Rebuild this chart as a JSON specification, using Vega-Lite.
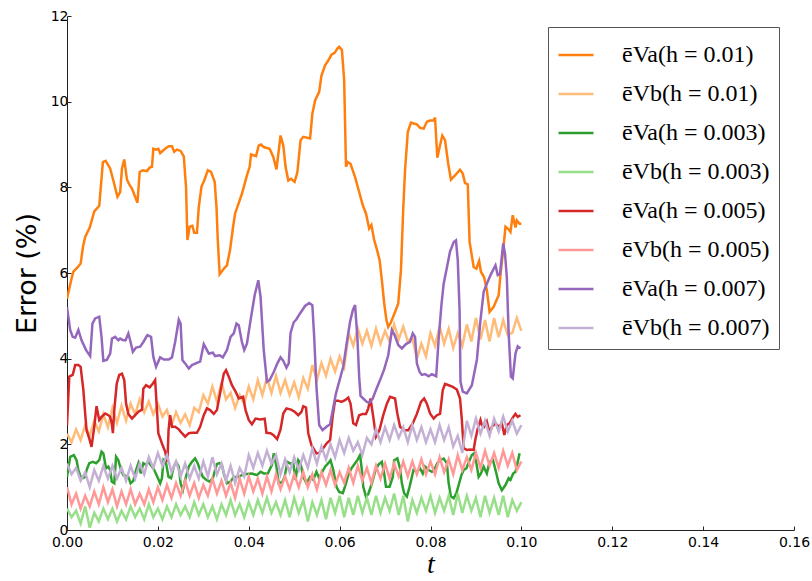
{
"$schema": "https://vega.github.io/schema/vega-lite/v6.json",
"width": 727, "height": 514,
"autosize": "none",
"padding": {"left": 67, "top": 16, "right": 18, "bottom": 51},
"background": "white",
"data": {"values": [
{"s":"a1","t":0,"v":5.4},{"s":"a1","t":0.001,"v":5.87},{"s":"a1","t":0.0014,"v":6.03},{"s":"a1","t":0.0023,"v":6.13},{"s":"a1","t":0.003,"v":6.22},{"s":"a1","t":0.0035,"v":6.6},{"s":"a1","t":0.004,"v":6.84},{"s":"a1","t":0.005,"v":7.06},{"s":"a1","t":0.006,"v":7.44},{"s":"a1","t":0.0071,"v":7.57},{"s":"a1","t":0.0079,"v":8.59},{"s":"a1","t":0.0085,"v":8.62},{"s":"a1","t":0.0095,"v":8.44},{"s":"a1","t":0.0102,"v":8.16},{"s":"a1","t":0.0111,"v":7.78},{"s":"a1","t":0.0117,"v":7.89},{"s":"a1","t":0.0121,"v":8.44},{"s":"a1","t":0.0126,"v":8.65},{"s":"a1","t":0.0132,"v":8.18},{"s":"a1","t":0.0138,"v":8.05},{"s":"a1","t":0.0143,"v":7.97},{"s":"a1","t":0.0155,"v":7.64},{"s":"a1","t":0.016,"v":8.36},{"s":"a1","t":0.0167,"v":8.4},{"s":"a1","t":0.0176,"v":8.38},{"s":"a1","t":0.0182,"v":8.46},{"s":"a1","t":0.0187,"v":8.48},{"s":"a1","t":0.019,"v":8.9},{"s":"a1","t":0.0196,"v":8.88},{"s":"a1","t":0.0201,"v":8.9},{"s":"a1","t":0.0205,"v":8.8},{"s":"a1","t":0.0216,"v":8.9},{"s":"a1","t":0.0224,"v":8.96},{"s":"a1","t":0.0231,"v":8.96},{"s":"a1","t":0.0236,"v":8.83},{"s":"a1","t":0.0242,"v":8.88},{"s":"a1","t":0.025,"v":8.85},{"s":"a1","t":0.0257,"v":8.72},{"s":"a1","t":0.0262,"v":8.0},{"s":"a1","t":0.0265,"v":6.77},{"s":"a1","t":0.027,"v":7.08},{"s":"a1","t":0.0276,"v":7.1},{"s":"a1","t":0.028,"v":6.94},{"s":"a1","t":0.0286,"v":6.94},{"s":"a1","t":0.029,"v":7.54},{"s":"a1","t":0.0296,"v":8.02},{"s":"a1","t":0.0302,"v":8.16},{"s":"a1","t":0.031,"v":8.4},{"s":"a1","t":0.0317,"v":8.36},{"s":"a1","t":0.0325,"v":8.13},{"s":"a1","t":0.0329,"v":7.54},{"s":"a1","t":0.0332,"v":6.73},{"s":"a1","t":0.0336,"v":5.97},{"s":"a1","t":0.0345,"v":6.1},{"s":"a1","t":0.0352,"v":6.18},{"s":"a1","t":0.0359,"v":6.55},{"s":"a1","t":0.0365,"v":7.04},{"s":"a1","t":0.037,"v":7.39},{"s":"a1","t":0.0385,"v":7.85},{"s":"a1","t":0.0396,"v":8.28},{"s":"a1","t":0.0402,"v":8.48},{"s":"a1","t":0.0405,"v":8.77},{"s":"a1","t":0.0416,"v":8.73},{"s":"a1","t":0.0422,"v":8.98},{"s":"a1","t":0.0427,"v":9.0},{"s":"a1","t":0.0433,"v":8.94},{"s":"a1","t":0.0446,"v":8.9},{"s":"a1","t":0.0454,"v":8.71},{"s":"a1","t":0.0461,"v":8.42},{"s":"a1","t":0.047,"v":9.21},{"s":"a1","t":0.0476,"v":8.98},{"s":"a1","t":0.0481,"v":8.48},{"s":"a1","t":0.0487,"v":8.16},{"s":"a1","t":0.0493,"v":8.2},{"s":"a1","t":0.0501,"v":8.13},{"s":"a1","t":0.0507,"v":8.35},{"s":"a1","t":0.0514,"v":9.1},{"s":"a1","t":0.052,"v":9.18},{"s":"a1","t":0.0535,"v":9.14},{"s":"a1","t":0.054,"v":9.72},{"s":"a1","t":0.0546,"v":10.03},{"s":"a1","t":0.0555,"v":10.23},{"s":"a1","t":0.056,"v":10.61},{"s":"a1","t":0.0568,"v":10.85},{"s":"a1","t":0.0575,"v":10.96},{"s":"a1","t":0.0582,"v":11.1},{"s":"a1","t":0.0589,"v":11.14},{"s":"a1","t":0.0595,"v":11.24},{"s":"a1","t":0.0599,"v":11.28},{"s":"a1","t":0.0605,"v":11.21},{"s":"a1","t":0.061,"v":10.5},{"s":"a1","t":0.0614,"v":8.48},{"s":"a1","t":0.0618,"v":8.59},{"s":"a1","t":0.0624,"v":8.55},{"s":"a1","t":0.0634,"v":8.24},{"s":"a1","t":0.0643,"v":7.89},{"s":"a1","t":0.0651,"v":7.58},{"s":"a1","t":0.0658,"v":7.39},{"s":"a1","t":0.0665,"v":7.04},{"s":"a1","t":0.067,"v":7.12},{"s":"a1","t":0.0676,"v":6.77},{"s":"a1","t":0.0682,"v":6.55},{"s":"a1","t":0.0688,"v":6.3},{"s":"a1","t":0.0693,"v":5.83},{"s":"a1","t":0.0698,"v":5.3},{"s":"a1","t":0.0703,"v":4.9},{"s":"a1","t":0.0707,"v":4.74},{"s":"a1","t":0.0713,"v":4.85},{"s":"a1","t":0.0722,"v":5.09},{"s":"a1","t":0.0729,"v":5.29},{"s":"a1","t":0.0735,"v":6.07},{"s":"a1","t":0.074,"v":7.5},{"s":"a1","t":0.0744,"v":8.4},{"s":"a1","t":0.075,"v":9.29},{"s":"a1","t":0.0757,"v":9.51},{"s":"a1","t":0.0763,"v":9.49},{"s":"a1","t":0.077,"v":9.47},{"s":"a1","t":0.0777,"v":9.39},{"s":"a1","t":0.0785,"v":9.37},{"s":"a1","t":0.0792,"v":9.53},{"s":"a1","t":0.0799,"v":9.56},{"s":"a1","t":0.0807,"v":9.56},{"s":"a1","t":0.081,"v":9.63},{"s":"a1","t":0.0815,"v":8.69},{"s":"a1","t":0.0821,"v":8.98},{"s":"a1","t":0.0826,"v":9.21},{"s":"a1","t":0.0832,"v":9.1},{"s":"a1","t":0.0839,"v":8.55},{"s":"a1","t":0.0845,"v":8.18},{"s":"a1","t":0.0854,"v":8.28},{"s":"a1","t":0.0865,"v":8.41},{"s":"a1","t":0.0871,"v":8.32},{"s":"a1","t":0.0876,"v":8.1},{"s":"a1","t":0.0882,"v":8.07},{"s":"a1","t":0.0886,"v":6.73},{"s":"a1","t":0.0895,"v":6.14},{"s":"a1","t":0.0901,"v":6.1},{"s":"a1","t":0.0907,"v":6.28},{"s":"a1","t":0.0911,"v":6.03},{"s":"a1","t":0.0918,"v":5.9},{"s":"a1","t":0.0924,"v":5.6},{"s":"a1","t":0.093,"v":5.09},{"s":"a1","t":0.0939,"v":5.21},{"s":"a1","t":0.095,"v":5.48},{"s":"a1","t":0.0955,"v":6.07},{"s":"a1","t":0.096,"v":6.53},{"s":"a1","t":0.0965,"v":7.08},{"s":"a1","t":0.0972,"v":7.02},{"s":"a1","t":0.0976,"v":6.96},{"s":"a1","t":0.0981,"v":7.35},{"s":"a1","t":0.0987,"v":7.06},{"s":"a1","t":0.099,"v":7.23},{"s":"a1","t":0.0996,"v":7.15},{"s":"a1","t":0.1,"v":7.15},
{"s":"b1","t":0,"v":2.25},{"s":"b1","t":0.001,"v":2.05},{"s":"b1","t":0.002,"v":2.35},{"s":"b1","t":0.003,"v":2.1},{"s":"b1","t":0.004,"v":2.45},{"s":"b1","t":0.005,"v":2.2},{"s":"b1","t":0.006,"v":2.55},{"s":"b1","t":0.007,"v":2.3},{"s":"b1","t":0.008,"v":2.7},{"s":"b1","t":0.009,"v":2.4},{"s":"b1","t":0.01,"v":2.85},{"s":"b1","t":0.011,"v":2.5},{"s":"b1","t":0.012,"v":2.9},{"s":"b1","t":0.013,"v":2.55},{"s":"b1","t":0.014,"v":2.95},{"s":"b1","t":0.015,"v":2.7},{"s":"b1","t":0.016,"v":3.05},{"s":"b1","t":0.017,"v":2.75},{"s":"b1","t":0.018,"v":3.0},{"s":"b1","t":0.019,"v":2.7},{"s":"b1","t":0.02,"v":2.95},{"s":"b1","t":0.021,"v":2.65},{"s":"b1","t":0.022,"v":2.8},{"s":"b1","t":0.023,"v":2.45},{"s":"b1","t":0.024,"v":2.75},{"s":"b1","t":0.025,"v":2.5},{"s":"b1","t":0.026,"v":2.7},{"s":"b1","t":0.027,"v":2.45},{"s":"b1","t":0.028,"v":2.85},{"s":"b1","t":0.029,"v":2.75},{"s":"b1","t":0.03,"v":3.15},{"s":"b1","t":0.031,"v":2.95},{"s":"b1","t":0.032,"v":3.35},{"s":"b1","t":0.033,"v":3.0},{"s":"b1","t":0.034,"v":3.45},{"s":"b1","t":0.035,"v":3.05},{"s":"b1","t":0.036,"v":3.2},{"s":"b1","t":0.037,"v":2.85},{"s":"b1","t":0.038,"v":3.15},{"s":"b1","t":0.039,"v":2.95},{"s":"b1","t":0.04,"v":3.35},{"s":"b1","t":0.041,"v":3.05},{"s":"b1","t":0.042,"v":3.5},{"s":"b1","t":0.043,"v":3.15},{"s":"b1","t":0.044,"v":3.55},{"s":"b1","t":0.045,"v":3.2},{"s":"b1","t":0.046,"v":3.6},{"s":"b1","t":0.047,"v":3.2},{"s":"b1","t":0.048,"v":3.5},{"s":"b1","t":0.049,"v":3.15},{"s":"b1","t":0.05,"v":3.45},{"s":"b1","t":0.051,"v":3.1},{"s":"b1","t":0.052,"v":3.55},{"s":"b1","t":0.053,"v":3.3},{"s":"b1","t":0.054,"v":3.85},{"s":"b1","t":0.055,"v":3.5},{"s":"b1","t":0.056,"v":3.9},{"s":"b1","t":0.057,"v":3.6},{"s":"b1","t":0.058,"v":4.0},{"s":"b1","t":0.059,"v":3.7},{"s":"b1","t":0.06,"v":4.05},{"s":"b1","t":0.061,"v":3.8},{"s":"b1","t":0.062,"v":4.6},{"s":"b1","t":0.063,"v":4.3},{"s":"b1","t":0.064,"v":4.7},{"s":"b1","t":0.065,"v":4.35},{"s":"b1","t":0.066,"v":4.65},{"s":"b1","t":0.067,"v":4.3},{"s":"b1","t":0.068,"v":4.7},{"s":"b1","t":0.069,"v":4.35},{"s":"b1","t":0.07,"v":4.65},{"s":"b1","t":0.071,"v":4.4},{"s":"b1","t":0.072,"v":4.8},{"s":"b1","t":0.073,"v":4.45},{"s":"b1","t":0.074,"v":4.75},{"s":"b1","t":0.075,"v":4.4},{"s":"b1","t":0.076,"v":4.5},{"s":"b1","t":0.077,"v":4.0},{"s":"b1","t":0.078,"v":4.35},{"s":"b1","t":0.079,"v":4.05},{"s":"b1","t":0.08,"v":4.6},{"s":"b1","t":0.081,"v":4.3},{"s":"b1","t":0.082,"v":4.75},{"s":"b1","t":0.083,"v":4.35},{"s":"b1","t":0.084,"v":4.7},{"s":"b1","t":0.085,"v":4.25},{"s":"b1","t":0.086,"v":4.6},{"s":"b1","t":0.087,"v":4.3},{"s":"b1","t":0.088,"v":4.8},{"s":"b1","t":0.089,"v":4.4},{"s":"b1","t":0.09,"v":4.95},{"s":"b1","t":0.091,"v":4.45},{"s":"b1","t":0.092,"v":4.9},{"s":"b1","t":0.093,"v":4.4},{"s":"b1","t":0.094,"v":4.95},{"s":"b1","t":0.095,"v":4.5},{"s":"b1","t":0.096,"v":4.9},{"s":"b1","t":0.097,"v":4.55},{"s":"b1","t":0.098,"v":4.6},{"s":"b1","t":0.099,"v":4.95},{"s":"b1","t":0.1,"v":4.65},
{"s":"a3","t":0,"v":1.24},{"s":"a3","t":0.0007,"v":1.71},{"s":"a3","t":0.0015,"v":1.75},{"s":"a3","t":0.0021,"v":1.63},{"s":"a3","t":0.0025,"v":1.4},{"s":"a3","t":0.003,"v":1.24},{"s":"a3","t":0.0035,"v":1.21},{"s":"a3","t":0.004,"v":1.24},{"s":"a3","t":0.0043,"v":1.4},{"s":"a3","t":0.0049,"v":1.56},{"s":"a3","t":0.0057,"v":1.59},{"s":"a3","t":0.0064,"v":1.56},{"s":"a3","t":0.0071,"v":1.63},{"s":"a3","t":0.0076,"v":1.83},{"s":"a3","t":0.008,"v":1.79},{"s":"a3","t":0.0086,"v":1.44},{"s":"a3","t":0.0091,"v":1.48},{"s":"a3","t":0.0095,"v":1.4},{"s":"a3","t":0.00985,"v":1.13},{"s":"a3","t":0.0104,"v":1.09},{"s":"a3","t":0.0108,"v":1.71},{"s":"a3","t":0.0113,"v":1.63},{"s":"a3","t":0.0118,"v":1.44},{"s":"a3","t":0.0124,"v":1.28},{"s":"a3","t":0.013,"v":1.26},{"s":"a3","t":0.0135,"v":1.24},{"s":"a3","t":0.014,"v":1.09},{"s":"a3","t":0.0146,"v":1.15},{"s":"a3","t":0.0152,"v":1.4},{"s":"a3","t":0.0157,"v":1.56},{"s":"a3","t":0.01625,"v":1.32},{"s":"a3","t":0.0168,"v":1.56},{"s":"a3","t":0.0174,"v":1.52},{"s":"a3","t":0.0179,"v":1.59},{"s":"a3","t":0.0187,"v":1.48},{"s":"a3","t":0.0192,"v":1.4},{"s":"a3","t":0.0199,"v":1.24},{"s":"a3","t":0.0205,"v":1.09},{"s":"a3","t":0.0209,"v":1.21},{"s":"a3","t":0.02125,"v":1.63},{"s":"a3","t":0.0218,"v":1.56},{"s":"a3","t":0.02235,"v":1.24},{"s":"a3","t":0.0229,"v":1.21},{"s":"a3","t":0.0235,"v":1.48},{"s":"a3","t":0.024,"v":1.59},{"s":"a3","t":0.0246,"v":1.48},{"s":"a3","t":0.025,"v":1.09},{"s":"a3","t":0.0255,"v":0.93},{"s":"a3","t":0.026,"v":1.17},{"s":"a3","t":0.0268,"v":1.48},{"s":"a3","t":0.0275,"v":1.59},{"s":"a3","t":0.0282,"v":1.67},{"s":"a3","t":0.02875,"v":1.56},{"s":"a3","t":0.0293,"v":1.4},{"s":"a3","t":0.0299,"v":1.24},{"s":"a3","t":0.0307,"v":1.17},{"s":"a3","t":0.0314,"v":1.13},{"s":"a3","t":0.0321,"v":1.21},{"s":"a3","t":0.0326,"v":1.4},{"s":"a3","t":0.033,"v":1.54},{"s":"a3","t":0.0336,"v":1.56},{"s":"a3","t":0.0341,"v":1.52},{"s":"a3","t":0.0346,"v":1.28},{"s":"a3","t":0.0352,"v":1.09},{"s":"a3","t":0.036,"v":1.13},{"s":"a3","t":0.0367,"v":1.24},{"s":"a3","t":0.0376,"v":1.24},{"s":"a3","t":0.0385,"v":1.28},{"s":"a3","t":0.0396,"v":1.31},{"s":"a3","t":0.0407,"v":1.32},{"s":"a3","t":0.0418,"v":1.28},{"s":"a3","t":0.0426,"v":1.36},{"s":"a3","t":0.0433,"v":1.32},{"s":"a3","t":0.0442,"v":1.32},{"s":"a3","t":0.0451,"v":1.52},{"s":"a3","t":0.0455,"v":1.79},{"s":"a3","t":0.0461,"v":1.48},{"s":"a3","t":0.0466,"v":1.09},{"s":"a3","t":0.0474,"v":1.12},{"s":"a3","t":0.0479,"v":1.24},{"s":"a3","t":0.0485,"v":1.59},{"s":"a3","t":0.0492,"v":1.55},{"s":"a3","t":0.0498,"v":1.56},{"s":"a3","t":0.0503,"v":1.17},{"s":"a3","t":0.0509,"v":1.63},{"s":"a3","t":0.0514,"v":1.56},{"s":"a3","t":0.052,"v":1.24},{"s":"a3","t":0.0527,"v":1.09},{"s":"a3","t":0.0535,"v":1.24},{"s":"a3","t":0.0542,"v":1.17},{"s":"a3","t":0.0549,"v":1.36},{"s":"a3","t":0.0555,"v":1.21},{"s":"a3","t":0.056,"v":1.32},{"s":"a3","t":0.0568,"v":1.48},{"s":"a3","t":0.0575,"v":1.56},{"s":"a3","t":0.058,"v":1.63},{"s":"a3","t":0.0586,"v":1.4},{"s":"a3","t":0.0593,"v":1.01},{"s":"a3","t":0.0599,"v":0.89},{"s":"a3","t":0.0607,"v":0.86},{"s":"a3","t":0.0614,"v":1.09},{"s":"a3","t":0.0619,"v":1.28},{"s":"a3","t":0.0626,"v":1.44},{"s":"a3","t":0.0634,"v":1.56},{"s":"a3","t":0.0639,"v":1.63},{"s":"a3","t":0.0645,"v":1.75},{"s":"a3","t":0.0649,"v":1.4},{"s":"a3","t":0.0652,"v":1.01},{"s":"a3","t":0.0658,"v":0.78},{"s":"a3","t":0.0663,"v":0.84},{"s":"a3","t":0.0671,"v":1.09},{"s":"a3","t":0.0678,"v":1.36},{"s":"a3","t":0.0685,"v":1.52},{"s":"a3","t":0.0693,"v":1.59},{"s":"a3","t":0.0698,"v":1.32},{"s":"a3","t":0.0702,"v":1.01},{"s":"a3","t":0.071,"v":1.01},{"s":"a3","t":0.0717,"v":1.24},{"s":"a3","t":0.072,"v":1.63},{"s":"a3","t":0.0727,"v":1.67},{"s":"a3","t":0.0733,"v":1.44},{"s":"a3","t":0.0737,"v":1.09},{"s":"a3","t":0.0742,"v":0.86},{"s":"a3","t":0.0748,"v":0.78},{"s":"a3","t":0.0754,"v":1.01},{"s":"a3","t":0.0759,"v":1.24},{"s":"a3","t":0.07625,"v":1.4},{"s":"a3","t":0.077,"v":1.36},{"s":"a3","t":0.0777,"v":1.44},{"s":"a3","t":0.0783,"v":1.32},{"s":"a3","t":0.0788,"v":1.48},{"s":"a3","t":0.0796,"v":1.4},{"s":"a3","t":0.0803,"v":1.36},{"s":"a3","t":0.0808,"v":1.4},{"s":"a3","t":0.0815,"v":1.56},{"s":"a3","t":0.0821,"v":1.63},{"s":"a3","t":0.0829,"v":1.67},{"s":"a3","t":0.0836,"v":1.56},{"s":"a3","t":0.084,"v":1.09},{"s":"a3","t":0.0845,"v":0.78},{"s":"a3","t":0.0851,"v":0.74},{"s":"a3","t":0.0857,"v":0.86},{"s":"a3","t":0.0862,"v":1.05},{"s":"a3","t":0.0868,"v":1.28},{"s":"a3","t":0.0873,"v":1.4},{"s":"a3","t":0.0879,"v":1.44},{"s":"a3","t":0.0886,"v":1.63},{"s":"a3","t":0.0891,"v":1.75},{"s":"a3","t":0.0896,"v":1.79},{"s":"a3","t":0.0901,"v":1.56},{"s":"a3","t":0.0906,"v":1.24},{"s":"a3","t":0.0911,"v":1.32},{"s":"a3","t":0.0917,"v":1.48},{"s":"a3","t":0.0924,"v":1.32},{"s":"a3","t":0.093,"v":1.59},{"s":"a3","t":0.09375,"v":1.63},{"s":"a3","t":0.0945,"v":1.32},{"s":"a3","t":0.095,"v":1.09},{"s":"a3","t":0.0957,"v":0.93},{"s":"a3","t":0.0965,"v":1.05},{"s":"a3","t":0.0972,"v":1.21},{"s":"a3","t":0.0976,"v":1.17},{"s":"a3","t":0.0982,"v":1.32},{"s":"a3","t":0.0987,"v":1.36},{"s":"a3","t":0.0992,"v":1.59},{"s":"a3","t":0.0996,"v":1.79},
{"s":"b3","t":0,"v":0.5},{"s":"b3","t":0.001,"v":0.3},{"s":"b3","t":0.002,"v":0.45},{"s":"b3","t":0.003,"v":0.15},{"s":"b3","t":0.004,"v":0.55},{"s":"b3","t":0.005,"v":0.05},{"s":"b3","t":0.006,"v":0.4},{"s":"b3","t":0.007,"v":0.2},{"s":"b3","t":0.008,"v":0.5},{"s":"b3","t":0.009,"v":0.25},{"s":"b3","t":0.01,"v":0.5},{"s":"b3","t":0.011,"v":0.2},{"s":"b3","t":0.012,"v":0.45},{"s":"b3","t":0.013,"v":0.25},{"s":"b3","t":0.014,"v":0.55},{"s":"b3","t":0.015,"v":0.3},{"s":"b3","t":0.016,"v":0.5},{"s":"b3","t":0.017,"v":0.25},{"s":"b3","t":0.018,"v":0.6},{"s":"b3","t":0.019,"v":0.3},{"s":"b3","t":0.02,"v":0.5},{"s":"b3","t":0.021,"v":0.25},{"s":"b3","t":0.022,"v":0.55},{"s":"b3","t":0.023,"v":0.3},{"s":"b3","t":0.024,"v":0.6},{"s":"b3","t":0.025,"v":0.35},{"s":"b3","t":0.026,"v":0.55},{"s":"b3","t":0.027,"v":0.3},{"s":"b3","t":0.028,"v":0.65},{"s":"b3","t":0.029,"v":0.35},{"s":"b3","t":0.03,"v":0.6},{"s":"b3","t":0.031,"v":0.3},{"s":"b3","t":0.032,"v":0.55},{"s":"b3","t":0.033,"v":0.25},{"s":"b3","t":0.034,"v":0.6},{"s":"b3","t":0.035,"v":0.35},{"s":"b3","t":0.036,"v":0.7},{"s":"b3","t":0.037,"v":0.35},{"s":"b3","t":0.038,"v":0.6},{"s":"b3","t":0.039,"v":0.3},{"s":"b3","t":0.04,"v":0.65},{"s":"b3","t":0.041,"v":0.35},{"s":"b3","t":0.042,"v":0.7},{"s":"b3","t":0.043,"v":0.4},{"s":"b3","t":0.044,"v":0.75},{"s":"b3","t":0.045,"v":0.4},{"s":"b3","t":0.046,"v":0.65},{"s":"b3","t":0.047,"v":0.35},{"s":"b3","t":0.048,"v":0.7},{"s":"b3","t":0.049,"v":0.3},{"s":"b3","t":0.05,"v":0.75},{"s":"b3","t":0.051,"v":0.4},{"s":"b3","t":0.052,"v":0.7},{"s":"b3","t":0.053,"v":0.2},{"s":"b3","t":0.054,"v":0.65},{"s":"b3","t":0.055,"v":0.35},{"s":"b3","t":0.056,"v":0.7},{"s":"b3","t":0.057,"v":0.25},{"s":"b3","t":0.058,"v":0.75},{"s":"b3","t":0.059,"v":0.4},{"s":"b3","t":0.06,"v":0.8},{"s":"b3","t":0.061,"v":0.3},{"s":"b3","t":0.062,"v":0.75},{"s":"b3","t":0.063,"v":0.35},{"s":"b3","t":0.064,"v":0.8},{"s":"b3","t":0.065,"v":0.4},{"s":"b3","t":0.066,"v":0.75},{"s":"b3","t":0.067,"v":0.35},{"s":"b3","t":0.068,"v":0.8},{"s":"b3","t":0.069,"v":0.4},{"s":"b3","t":0.07,"v":0.75},{"s":"b3","t":0.071,"v":0.45},{"s":"b3","t":0.072,"v":0.85},{"s":"b3","t":0.073,"v":0.35},{"s":"b3","t":0.074,"v":0.8},{"s":"b3","t":0.075,"v":0.2},{"s":"b3","t":0.076,"v":0.7},{"s":"b3","t":0.077,"v":0.4},{"s":"b3","t":0.078,"v":0.75},{"s":"b3","t":0.079,"v":0.45},{"s":"b3","t":0.08,"v":0.8},{"s":"b3","t":0.081,"v":0.4},{"s":"b3","t":0.082,"v":0.75},{"s":"b3","t":0.083,"v":0.45},{"s":"b3","t":0.084,"v":0.8},{"s":"b3","t":0.085,"v":0.35},{"s":"b3","t":0.086,"v":0.85},{"s":"b3","t":0.087,"v":0.4},{"s":"b3","t":0.088,"v":0.8},{"s":"b3","t":0.089,"v":0.45},{"s":"b3","t":0.09,"v":0.75},{"s":"b3","t":0.091,"v":0.3},{"s":"b3","t":0.092,"v":0.8},{"s":"b3","t":0.093,"v":0.4},{"s":"b3","t":0.094,"v":0.75},{"s":"b3","t":0.095,"v":0.35},{"s":"b3","t":0.096,"v":0.8},{"s":"b3","t":0.097,"v":0.3},{"s":"b3","t":0.098,"v":0.7},{"s":"b3","t":0.099,"v":0.45},{"s":"b3","t":0.1,"v":0.65},
{"s":"a5","t":0,"v":2.45},{"s":"a5","t":0.0005,"v":3.58},{"s":"a5","t":0.00125,"v":3.62},{"s":"a5","t":0.0018,"v":3.85},{"s":"a5","t":0.0025,"v":3.85},{"s":"a5","t":0.003,"v":3.81},{"s":"a5","t":0.0036,"v":3.27},{"s":"a5","t":0.004,"v":2.72},{"s":"a5","t":0.0043,"v":2.33},{"s":"a5","t":0.0049,"v":2.14},{"s":"a5","t":0.0054,"v":1.94},{"s":"a5","t":0.006,"v":2.41},{"s":"a5","t":0.0065,"v":2.89},{"s":"a5","t":0.0071,"v":2.57},{"s":"a5","t":0.0076,"v":2.64},{"s":"a5","t":0.0084,"v":2.72},{"s":"a5","t":0.0091,"v":2.68},{"s":"a5","t":0.0095,"v":2.64},{"s":"a5","t":0.00985,"v":2.49},{"s":"a5","t":0.0101,"v":2.26},{"s":"a5","t":0.0104,"v":2.8},{"s":"a5","t":0.01095,"v":3.42},{"s":"a5","t":0.0115,"v":3.62},{"s":"a5","t":0.0121,"v":3.65},{"s":"a5","t":0.0126,"v":3.5},{"s":"a5","t":0.013,"v":2.95},{"s":"a5","t":0.0135,"v":2.71},{"s":"a5","t":0.0143,"v":2.6},{"s":"a5","t":0.015,"v":2.68},{"s":"a5","t":0.0157,"v":2.76},{"s":"a5","t":0.0165,"v":2.81},{"s":"a5","t":0.0168,"v":3.3},{"s":"a5","t":0.0174,"v":3.38},{"s":"a5","t":0.0182,"v":3.33},{"s":"a5","t":0.0189,"v":3.42},{"s":"a5","t":0.0194,"v":3.5},{"s":"a5","t":0.0198,"v":2.8},{"s":"a5","t":0.0201,"v":2.26},{"s":"a5","t":0.0209,"v":2.02},{"s":"a5","t":0.0216,"v":1.83},{"s":"a5","t":0.0221,"v":1.59},{"s":"a5","t":0.02235,"v":2.33},{"s":"a5","t":0.0227,"v":2.68},{"s":"a5","t":0.0231,"v":2.41},{"s":"a5","t":0.0238,"v":2.41},{"s":"a5","t":0.0246,"v":2.35},{"s":"a5","t":0.0253,"v":2.26},{"s":"a5","t":0.026,"v":2.18},{"s":"a5","t":0.0268,"v":2.26},{"s":"a5","t":0.0275,"v":2.27},{"s":"a5","t":0.0286,"v":2.27},{"s":"a5","t":0.0293,"v":2.41},{"s":"a5","t":0.0301,"v":2.68},{"s":"a5","t":0.0308,"v":2.84},{"s":"a5","t":0.0315,"v":2.8},{"s":"a5","t":0.0323,"v":2.71},{"s":"a5","t":0.033,"v":2.8},{"s":"a5","t":0.03375,"v":3.23},{"s":"a5","t":0.0345,"v":3.65},{"s":"a5","t":0.035,"v":3.73},{"s":"a5","t":0.0356,"v":3.58},{"s":"a5","t":0.0363,"v":3.38},{"s":"a5","t":0.0371,"v":3.23},{"s":"a5","t":0.0378,"v":3.07},{"s":"a5","t":0.03875,"v":3.11},{"s":"a5","t":0.0393,"v":2.8},{"s":"a5","t":0.04,"v":2.57},{"s":"a5","t":0.0407,"v":2.47},{"s":"a5","t":0.0415,"v":2.6},{"s":"a5","t":0.0426,"v":2.58},{"s":"a5","t":0.0435,"v":2.6},{"s":"a5","t":0.0439,"v":2.27},{"s":"a5","t":0.0448,"v":2.26},{"s":"a5","t":0.0454,"v":2.22},{"s":"a5","t":0.04625,"v":2.12},{"s":"a5","t":0.047,"v":2.35},{"s":"a5","t":0.0476,"v":2.72},{"s":"a5","t":0.0483,"v":2.84},{"s":"a5","t":0.0493,"v":2.81},{"s":"a5","t":0.0501,"v":2.76},{"s":"a5","t":0.0509,"v":2.68},{"s":"a5","t":0.0516,"v":2.76},{"s":"a5","t":0.052,"v":2.89},{"s":"a5","t":0.0526,"v":2.86},{"s":"a5","t":0.0531,"v":2.26},{"s":"a5","t":0.0538,"v":1.98},{"s":"a5","t":0.0549,"v":1.79},{"s":"a5","t":0.0555,"v":1.8},{"s":"a5","t":0.0564,"v":1.91},{"s":"a5","t":0.0571,"v":2.02},{"s":"a5","t":0.0579,"v":2.1},{"s":"a5","t":0.0585,"v":2.68},{"s":"a5","t":0.059,"v":3.02},{"s":"a5","t":0.0597,"v":3.02},{"s":"a5","t":0.0604,"v":2.99},{"s":"a5","t":0.0612,"v":3.03},{"s":"a5","t":0.0619,"v":3.09},{"s":"a5","t":0.0624,"v":2.95},{"s":"a5","t":0.063,"v":2.49},{"s":"a5","t":0.0636,"v":2.45},{"s":"a5","t":0.0643,"v":2.68},{"s":"a5","t":0.0651,"v":2.71},{"s":"a5","t":0.0658,"v":2.71},{"s":"a5","t":0.0663,"v":2.84},{"s":"a5","t":0.0668,"v":3.07},{"s":"a5","t":0.0674,"v":2.64},{"s":"a5","t":0.068,"v":2.18},{"s":"a5","t":0.06875,"v":2.33},{"s":"a5","t":0.0696,"v":2.68},{"s":"a5","t":0.0704,"v":2.95},{"s":"a5","t":0.0711,"v":3.11},{"s":"a5","t":0.0722,"v":3.07},{"s":"a5","t":0.0727,"v":2.72},{"s":"a5","t":0.0733,"v":2.41},{"s":"a5","t":0.0742,"v":2.33},{"s":"a5","t":0.0751,"v":2.33},{"s":"a5","t":0.0761,"v":2.49},{"s":"a5","t":0.077,"v":2.71},{"s":"a5","t":0.0779,"v":2.99},{"s":"a5","t":0.0786,"v":3.07},{"s":"a5","t":0.0792,"v":2.95},{"s":"a5","t":0.0799,"v":2.72},{"s":"a5","t":0.0807,"v":2.6},{"s":"a5","t":0.0814,"v":2.68},{"s":"a5","t":0.0821,"v":2.71},{"s":"a5","t":0.0827,"v":3.27},{"s":"a5","t":0.0832,"v":3.41},{"s":"a5","t":0.084,"v":3.38},{"s":"a5","t":0.0849,"v":3.34},{"s":"a5","t":0.0858,"v":3.28},{"s":"a5","t":0.0865,"v":3.07},{"s":"a5","t":0.0869,"v":2.57},{"s":"a5","t":0.0873,"v":1.91},{"s":"a5","t":0.088,"v":1.87},{"s":"a5","t":0.08875,"v":1.88},{"s":"a5","t":0.0895,"v":1.87},{"s":"a5","t":0.08985,"v":2.1},{"s":"a5","t":0.0904,"v":2.37},{"s":"a5","t":0.091,"v":2.57},{"s":"a5","t":0.0913,"v":2.45},{"s":"a5","t":0.0918,"v":2.41},{"s":"a5","t":0.0924,"v":2.53},{"s":"a5","t":0.093,"v":2.26},{"s":"a5","t":0.0935,"v":2.41},{"s":"a5","t":0.0943,"v":2.49},{"s":"a5","t":0.095,"v":2.41},{"s":"a5","t":0.0957,"v":2.49},{"s":"a5","t":0.09625,"v":2.22},{"s":"a5","t":0.0968,"v":2.45},{"s":"a5","t":0.0974,"v":2.49},{"s":"a5","t":0.0982,"v":2.64},{"s":"a5","t":0.0987,"v":2.71},{"s":"a5","t":0.0992,"v":2.64},{"s":"a5","t":0.0998,"v":2.68},
{"s":"b5","t":0,"v":1.0},{"s":"b5","t":0.001,"v":0.6},{"s":"b5","t":0.002,"v":0.85},{"s":"b5","t":0.003,"v":0.5},{"s":"b5","t":0.004,"v":0.8},{"s":"b5","t":0.005,"v":0.55},{"s":"b5","t":0.006,"v":0.9},{"s":"b5","t":0.007,"v":0.6},{"s":"b5","t":0.008,"v":1.0},{"s":"b5","t":0.009,"v":0.65},{"s":"b5","t":0.01,"v":0.95},{"s":"b5","t":0.011,"v":0.55},{"s":"b5","t":0.012,"v":0.9},{"s":"b5","t":0.013,"v":0.6},{"s":"b5","t":0.014,"v":0.95},{"s":"b5","t":0.015,"v":0.6},{"s":"b5","t":0.016,"v":0.85},{"s":"b5","t":0.017,"v":0.6},{"s":"b5","t":0.018,"v":0.95},{"s":"b5","t":0.019,"v":0.65},{"s":"b5","t":0.02,"v":1.0},{"s":"b5","t":0.021,"v":0.7},{"s":"b5","t":0.022,"v":1.05},{"s":"b5","t":0.023,"v":0.75},{"s":"b5","t":0.024,"v":1.1},{"s":"b5","t":0.025,"v":0.8},{"s":"b5","t":0.026,"v":1.15},{"s":"b5","t":0.027,"v":0.8},{"s":"b5","t":0.028,"v":1.1},{"s":"b5","t":0.029,"v":0.75},{"s":"b5","t":0.03,"v":1.05},{"s":"b5","t":0.031,"v":0.8},{"s":"b5","t":0.032,"v":1.2},{"s":"b5","t":0.033,"v":0.85},{"s":"b5","t":0.034,"v":1.15},{"s":"b5","t":0.035,"v":0.8},{"s":"b5","t":0.036,"v":1.1},{"s":"b5","t":0.037,"v":0.75},{"s":"b5","t":0.038,"v":1.2},{"s":"b5","t":0.039,"v":0.85},{"s":"b5","t":0.04,"v":1.25},{"s":"b5","t":0.041,"v":0.9},{"s":"b5","t":0.042,"v":1.2},{"s":"b5","t":0.043,"v":0.85},{"s":"b5","t":0.044,"v":1.25},{"s":"b5","t":0.045,"v":0.9},{"s":"b5","t":0.046,"v":1.3},{"s":"b5","t":0.047,"v":0.95},{"s":"b5","t":0.048,"v":1.25},{"s":"b5","t":0.049,"v":0.95},{"s":"b5","t":0.05,"v":1.3},{"s":"b5","t":0.051,"v":1.0},{"s":"b5","t":0.052,"v":1.35},{"s":"b5","t":0.053,"v":1.0},{"s":"b5","t":0.054,"v":1.3},{"s":"b5","t":0.055,"v":0.95},{"s":"b5","t":0.056,"v":1.35},{"s":"b5","t":0.057,"v":1.05},{"s":"b5","t":0.058,"v":1.4},{"s":"b5","t":0.059,"v":1.05},{"s":"b5","t":0.06,"v":1.35},{"s":"b5","t":0.061,"v":1.1},{"s":"b5","t":0.062,"v":1.45},{"s":"b5","t":0.063,"v":1.1},{"s":"b5","t":0.064,"v":1.5},{"s":"b5","t":0.065,"v":1.15},{"s":"b5","t":0.066,"v":1.45},{"s":"b5","t":0.067,"v":1.1},{"s":"b5","t":0.068,"v":1.5},{"s":"b5","t":0.069,"v":1.2},{"s":"b5","t":0.07,"v":1.55},{"s":"b5","t":0.071,"v":1.2},{"s":"b5","t":0.072,"v":1.55},{"s":"b5","t":0.073,"v":1.25},{"s":"b5","t":0.074,"v":1.6},{"s":"b5","t":0.075,"v":1.25},{"s":"b5","t":0.076,"v":1.6},{"s":"b5","t":0.077,"v":1.3},{"s":"b5","t":0.078,"v":1.65},{"s":"b5","t":0.079,"v":1.3},{"s":"b5","t":0.08,"v":1.6},{"s":"b5","t":0.081,"v":1.3},{"s":"b5","t":0.082,"v":1.7},{"s":"b5","t":0.083,"v":1.35},{"s":"b5","t":0.084,"v":1.65},{"s":"b5","t":0.085,"v":1.3},{"s":"b5","t":0.086,"v":1.75},{"s":"b5","t":0.087,"v":1.4},{"s":"b5","t":0.088,"v":1.7},{"s":"b5","t":0.089,"v":1.4},{"s":"b5","t":0.09,"v":1.8},{"s":"b5","t":0.091,"v":1.45},{"s":"b5","t":0.092,"v":1.85},{"s":"b5","t":0.093,"v":1.5},{"s":"b5","t":0.094,"v":1.8},{"s":"b5","t":0.095,"v":1.45},{"s":"b5","t":0.096,"v":1.85},{"s":"b5","t":0.097,"v":1.5},{"s":"b5","t":0.098,"v":1.8},{"s":"b5","t":0.099,"v":1.4},{"s":"b5","t":0.1,"v":1.6},
{"s":"a7","t":0,"v":5.2},{"s":"a7","t":0.0007,"v":4.67},{"s":"a7","t":0.00125,"v":4.51},{"s":"a7","t":0.0018,"v":4.49},{"s":"a7","t":0.0025,"v":4.67},{"s":"a7","t":0.0032,"v":4.43},{"s":"a7","t":0.0042,"v":4.2},{"s":"a7","t":0.0051,"v":4.06},{"s":"a7","t":0.0056,"v":4.82},{"s":"a7","t":0.0062,"v":4.94},{"s":"a7","t":0.0071,"v":4.98},{"s":"a7","t":0.0076,"v":4.51},{"s":"a7","t":0.008,"v":3.95},{"s":"a7","t":0.00875,"v":3.97},{"s":"a7","t":0.0095,"v":4.12},{"s":"a7","t":0.0099,"v":4.47},{"s":"a7","t":0.0106,"v":4.51},{"s":"a7","t":0.0113,"v":4.43},{"s":"a7","t":0.0117,"v":4.47},{"s":"a7","t":0.0124,"v":4.43},{"s":"a7","t":0.0129,"v":4.43},{"s":"a7","t":0.0135,"v":4.59},{"s":"a7","t":0.0139,"v":4.43},{"s":"a7","t":0.0145,"v":4.16},{"s":"a7","t":0.0152,"v":4.26},{"s":"a7","t":0.0161,"v":4.28},{"s":"a7","t":0.0168,"v":4.39},{"s":"a7","t":0.0177,"v":4.55},{"s":"a7","t":0.0185,"v":4.51},{"s":"a7","t":0.019,"v":4.04},{"s":"a7","t":0.0196,"v":3.81},{"s":"a7","t":0.0205,"v":4.03},{"s":"a7","t":0.0213,"v":3.98},{"s":"a7","t":0.0224,"v":3.98},{"s":"a7","t":0.0231,"v":4.03},{"s":"a7","t":0.0238,"v":4.39},{"s":"a7","t":0.0246,"v":4.91},{"s":"a7","t":0.025,"v":4.82},{"s":"a7","t":0.0254,"v":3.97},{"s":"a7","t":0.026,"v":3.89},{"s":"a7","t":0.0268,"v":3.77},{"s":"a7","t":0.0275,"v":3.85},{"s":"a7","t":0.0286,"v":3.9},{"s":"a7","t":0.0293,"v":3.93},{"s":"a7","t":0.0301,"v":4.34},{"s":"a7","t":0.0306,"v":4.24},{"s":"a7","t":0.0312,"v":4.12},{"s":"a7","t":0.0321,"v":4.14},{"s":"a7","t":0.0326,"v":4.06},{"s":"a7","t":0.0336,"v":4.08},{"s":"a7","t":0.0343,"v":4.03},{"s":"a7","t":0.0352,"v":4.2},{"s":"a7","t":0.036,"v":4.51},{"s":"a7","t":0.0367,"v":4.59},{"s":"a7","t":0.0373,"v":4.82},{"s":"a7","t":0.0378,"v":4.78},{"s":"a7","t":0.0385,"v":4.39},{"s":"a7","t":0.039,"v":4.2},{"s":"a7","t":0.0396,"v":4.35},{"s":"a7","t":0.0404,"v":4.9},{"s":"a7","t":0.0413,"v":5.48},{"s":"a7","t":0.0421,"v":5.83},{"s":"a7","t":0.0426,"v":5.44},{"s":"a7","t":0.0433,"v":4.2},{"s":"a7","t":0.044,"v":3.46},{"s":"a7","t":0.0446,"v":3.5},{"s":"a7","t":0.0455,"v":3.69},{"s":"a7","t":0.0463,"v":3.89},{"s":"a7","t":0.047,"v":4.03},{"s":"a7","t":0.0476,"v":3.95},{"s":"a7","t":0.0483,"v":3.79},{"s":"a7","t":0.0488,"v":3.89},{"s":"a7","t":0.0492,"v":4.6},{"s":"a7","t":0.0499,"v":4.85},{"s":"a7","t":0.0505,"v":4.92},{"s":"a7","t":0.05125,"v":5.05},{"s":"a7","t":0.0524,"v":5.23},{"s":"a7","t":0.0533,"v":5.3},{"s":"a7","t":0.054,"v":5.25},{"s":"a7","t":0.0544,"v":4.51},{"s":"a7","t":0.0549,"v":3.34},{"s":"a7","t":0.0555,"v":2.45},{"s":"a7","t":0.05625,"v":2.33},{"s":"a7","t":0.0571,"v":2.41},{"s":"a7","t":0.0579,"v":2.47},{"s":"a7","t":0.0585,"v":2.8},{"s":"a7","t":0.0592,"v":3.19},{"s":"a7","t":0.0601,"v":3.54},{"s":"a7","t":0.0608,"v":3.81},{"s":"a7","t":0.0615,"v":4.32},{"s":"a7","t":0.0623,"v":4.86},{"s":"a7","t":0.0629,"v":5.13},{"s":"a7","t":0.0634,"v":5.25},{"s":"a7","t":0.0639,"v":4.51},{"s":"a7","t":0.0643,"v":3.58},{"s":"a7","t":0.0646,"v":3.13},{"s":"a7","t":0.0652,"v":3.07},{"s":"a7","t":0.066,"v":2.99},{"s":"a7","t":0.0665,"v":2.97},{"s":"a7","t":0.0673,"v":3.07},{"s":"a7","t":0.068,"v":3.27},{"s":"a7","t":0.0689,"v":3.5},{"s":"a7","t":0.0698,"v":3.75},{"s":"a7","t":0.0707,"v":4.08},{"s":"a7","t":0.0715,"v":4.67},{"s":"a7","t":0.0721,"v":4.55},{"s":"a7","t":0.0729,"v":4.32},{"s":"a7","t":0.0737,"v":4.24},{"s":"a7","t":0.0746,"v":4.34},{"s":"a7","t":0.0755,"v":4.39},{"s":"a7","t":0.0761,"v":4.59},{"s":"a7","t":0.0766,"v":4.51},{"s":"a7","t":0.077,"v":3.89},{"s":"a7","t":0.0776,"v":3.69},{"s":"a7","t":0.0781,"v":3.62},{"s":"a7","t":0.0788,"v":3.64},{"s":"a7","t":0.0796,"v":3.59},{"s":"a7","t":0.0803,"v":3.64},{"s":"a7","t":0.08125,"v":3.59},{"s":"a7","t":0.0818,"v":4.47},{"s":"a7","t":0.0824,"v":5.25},{"s":"a7","t":0.0829,"v":5.75},{"s":"a7","t":0.0835,"v":6.07},{"s":"a7","t":0.0843,"v":6.5},{"s":"a7","t":0.0851,"v":6.72},{"s":"a7","t":0.0856,"v":6.76},{"s":"a7","t":0.086,"v":6.3},{"s":"a7","t":0.0864,"v":5.13},{"s":"a7","t":0.0866,"v":3.46},{"s":"a7","t":0.0871,"v":3.23},{"s":"a7","t":0.088,"v":3.19},{"s":"a7","t":0.0891,"v":3.38},{"s":"a7","t":0.0902,"v":3.97},{"s":"a7","t":0.091,"v":4.9},{"s":"a7","t":0.0917,"v":5.56},{"s":"a7","t":0.0924,"v":5.75},{"s":"a7","t":0.0932,"v":5.95},{"s":"a7","t":0.0943,"v":6.18},{"s":"a7","t":0.0948,"v":5.95},{"s":"a7","t":0.0953,"v":5.98},{"s":"a7","t":0.096,"v":6.69},{"s":"a7","t":0.0964,"v":6.45},{"s":"a7","t":0.0968,"v":5.9},{"s":"a7","t":0.0972,"v":4.59},{"s":"a7","t":0.0977,"v":3.58},{"s":"a7","t":0.0981,"v":3.54},{"s":"a7","t":0.0987,"v":4.12},{"s":"a7","t":0.0992,"v":4.29},{"s":"a7","t":0.0998,"v":4.24},
{"s":"b7","t":0,"v":1.55},{"s":"b7","t":0.001,"v":1.3},{"s":"b7","t":0.002,"v":1.45},{"s":"b7","t":0.003,"v":1.15},{"s":"b7","t":0.004,"v":1.35},{"s":"b7","t":0.005,"v":1.0},{"s":"b7","t":0.006,"v":1.4},{"s":"b7","t":0.007,"v":1.15},{"s":"b7","t":0.008,"v":1.5},{"s":"b7","t":0.009,"v":1.2},{"s":"b7","t":0.01,"v":1.5},{"s":"b7","t":0.011,"v":1.2},{"s":"b7","t":0.012,"v":1.45},{"s":"b7","t":0.013,"v":1.15},{"s":"b7","t":0.014,"v":1.5},{"s":"b7","t":0.015,"v":1.2},{"s":"b7","t":0.016,"v":1.55},{"s":"b7","t":0.017,"v":1.3},{"s":"b7","t":0.018,"v":1.7},{"s":"b7","t":0.019,"v":1.45},{"s":"b7","t":0.02,"v":1.8},{"s":"b7","t":0.021,"v":1.5},{"s":"b7","t":0.022,"v":1.75},{"s":"b7","t":0.023,"v":1.35},{"s":"b7","t":0.024,"v":1.6},{"s":"b7","t":0.025,"v":1.25},{"s":"b7","t":0.026,"v":1.55},{"s":"b7","t":0.027,"v":1.2},{"s":"b7","t":0.028,"v":1.5},{"s":"b7","t":0.029,"v":1.2},{"s":"b7","t":0.03,"v":1.6},{"s":"b7","t":0.031,"v":1.25},{"s":"b7","t":0.032,"v":1.7},{"s":"b7","t":0.033,"v":1.3},{"s":"b7","t":0.034,"v":1.55},{"s":"b7","t":0.035,"v":1.15},{"s":"b7","t":0.036,"v":1.5},{"s":"b7","t":0.037,"v":1.1},{"s":"b7","t":0.038,"v":1.45},{"s":"b7","t":0.039,"v":1.25},{"s":"b7","t":0.04,"v":1.75},{"s":"b7","t":0.041,"v":1.45},{"s":"b7","t":0.042,"v":1.8},{"s":"b7","t":0.043,"v":1.5},{"s":"b7","t":0.044,"v":1.85},{"s":"b7","t":0.045,"v":1.55},{"s":"b7","t":0.046,"v":1.75},{"s":"b7","t":0.047,"v":1.3},{"s":"b7","t":0.048,"v":1.65},{"s":"b7","t":0.049,"v":1.35},{"s":"b7","t":0.05,"v":1.7},{"s":"b7","t":0.051,"v":1.4},{"s":"b7","t":0.052,"v":1.75},{"s":"b7","t":0.053,"v":1.45},{"s":"b7","t":0.054,"v":1.9},{"s":"b7","t":0.055,"v":1.55},{"s":"b7","t":0.056,"v":1.95},{"s":"b7","t":0.057,"v":1.65},{"s":"b7","t":0.058,"v":2.0},{"s":"b7","t":0.059,"v":1.7},{"s":"b7","t":0.06,"v":2.1},{"s":"b7","t":0.061,"v":1.8},{"s":"b7","t":0.062,"v":2.15},{"s":"b7","t":0.063,"v":1.85},{"s":"b7","t":0.064,"v":2.05},{"s":"b7","t":0.065,"v":1.75},{"s":"b7","t":0.066,"v":2.15},{"s":"b7","t":0.067,"v":2.0},{"s":"b7","t":0.068,"v":2.35},{"s":"b7","t":0.069,"v":2.05},{"s":"b7","t":0.07,"v":2.4},{"s":"b7","t":0.071,"v":2.1},{"s":"b7","t":0.072,"v":2.45},{"s":"b7","t":0.073,"v":2.15},{"s":"b7","t":0.074,"v":2.4},{"s":"b7","t":0.075,"v":2.05},{"s":"b7","t":0.076,"v":2.45},{"s":"b7","t":0.077,"v":2.1},{"s":"b7","t":0.078,"v":2.4},{"s":"b7","t":0.079,"v":2.05},{"s":"b7","t":0.08,"v":2.35},{"s":"b7","t":0.081,"v":2.05},{"s":"b7","t":0.082,"v":2.45},{"s":"b7","t":0.083,"v":2.1},{"s":"b7","t":0.084,"v":2.4},{"s":"b7","t":0.085,"v":1.95},{"s":"b7","t":0.086,"v":2.2},{"s":"b7","t":0.087,"v":1.8},{"s":"b7","t":0.088,"v":2.55},{"s":"b7","t":0.089,"v":2.2},{"s":"b7","t":0.09,"v":2.6},{"s":"b7","t":0.091,"v":2.25},{"s":"b7","t":0.092,"v":2.55},{"s":"b7","t":0.093,"v":2.2},{"s":"b7","t":0.094,"v":2.6},{"s":"b7","t":0.095,"v":2.3},{"s":"b7","t":0.096,"v":2.65},{"s":"b7","t":0.097,"v":2.3},{"s":"b7","t":0.098,"v":2.55},{"s":"b7","t":0.099,"v":2.25},{"s":"b7","t":0.1,"v":2.45}
]},
"mark": {"type": "line", "strokeWidth": 2.5, "interpolate": "linear", "clip": true},
"encoding": {
  "x": {"field": "t", "type": "quantitative",
        "scale": {"domain": [0, 0.16], "nice": false, "zero": false},
        "axis": {"title": "t", "values": [0, 0.02, 0.04, 0.06, 0.08, 0.1, 0.12, 0.14, 0.16], "format": ".2f", "labelPadding": 9,
                 "titleFont": "Liberation Serif", "titleFontStyle": "italic", "titleFontWeight": "normal", "titleFontSize": 28, "titlePadding": 1}},
  "y": {"field": "v", "type": "quantitative",
        "scale": {"domain": [0, 12], "nice": false},
        "axis": {"title": "Error (%)", "values": [0, 2, 4, 6, 8, 10, 12], "format": "d", "labelPadding": 3,
                 "titleFont": "DejaVu Sans", "titleFontWeight": "normal", "titleFontSize": 27, "titlePadding": 9}},
  "color": {"field": "s", "type": "nominal",
            "scale": {"domain": ["a1","b1","a3","b3","a5","b5","a7","b7"],
                      "range": ["#ff7f0e","#ffbb78","#2ca02c","#98df8a","#d62728","#ff9896","#9467bd","#c5b0d5"]},
            "legend": {"title": null, "orient": "none", "legendX": 481, "legendY": 11,
                       "labelExpr": "{'a1':'ēVa(h = 0.01)','b1':'ēVb(h = 0.01)','a3':'ēVa(h = 0.003)','b3':'ēVb(h = 0.003)','a5':'ēVa(h = 0.005)','b5':'ēVb(h = 0.005)','a7':'ēVa(h = 0.007)','b7':'ēVb(h = 0.007)'}[datum.label]",
                       "symbolType": "stroke", "symbolSize": 1225, "symbolStrokeWidth": 2.5,
                       "labelFont": "Liberation Serif", "labelFontSize": 24, "labelColor": "black",
                       "labelOffset": 27, "rowPadding": 8, "padding": 9,
                       "strokeColor": "#555555", "fillColor": "white", "cornerRadius": 0, "labelLimit": 300}}
},
"config": {
  "view": {"stroke": null},
  "axis": {"grid": false, "domainColor": "#222222", "tickColor": "#222222", "tickSize": -4,
           "labelFont": "DejaVu Sans", "labelFontSize": 14, "labelColor": "black", "labelFlush": false, "labelOverlap": false,
           "titleColor": "black"}
}
}
